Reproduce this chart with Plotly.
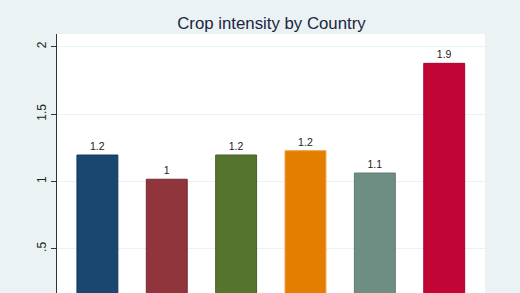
import plotly.graph_objects as go

countries = ["Country A", "Country B", "Country C", "Country D", "Country E", "Country F"]
crop_intensity = [1.196, 1.016, 1.196, 1.228, 1.062, 1.877]
value_labels = ["1.2", "1", "1.2", "1.2", "1.1", "1.9"]
bar_colors = ["#1a476f", "#90353b", "#55752f", "#e37e00", "#6e8e84", "#c10534"]
line_colors = ["#153a5a", "#7a2a30", "#466127", "#f0a040", "#5e7a71", "#a8042c"]
y_ticks = [0.5, 1, 1.5, 2]
y_tick_text = [".5", "1", "1.5", "2"]

fig = go.Figure()
fig.add_trace(go.Bar(
    x=countries,
    y=crop_intensity,
    text=value_labels,
    textposition="outside",
    textfont=dict(family="Liberation Sans, Arial", size=10.5, color="#222222"),
    marker=dict(color=bar_colors, line=dict(color=line_colors, width=1)),
    width=0.59,
    cliponaxis=False,
    hoverinfo="skip",
))

fig.update_layout(
    width=520, height=293,
    margin=dict(l=57, r=35, t=34, b=0),
    paper_bgcolor="#eaf2f3",
    plot_bgcolor="#ffffff",
    showlegend=False,
    title=dict(text="Crop intensity by Country", x=0.522, xanchor="center",
               y=1 - 23 / 293, yanchor="middle",
               font=dict(family="Liberation Sans, Arial", size=16.8, color="#1c2541")),
    xaxis=dict(range=[-0.5825, 5.588], showticklabels=False, showgrid=False,
               zeroline=False, showline=False, ticks=""),
    yaxis=dict(range=[0.171, 2.095], tickvals=y_ticks, ticktext=y_tick_text,
               tickangle=-90, ticks="outside", ticklen=5, tickcolor="#333333",
               showline=True, linecolor="#333333", linewidth=1,
               showgrid=True, gridcolor="#eaf2f3", gridwidth=1, zeroline=False,
               tickfont=dict(family="Liberation Sans, Arial", size=12, color="#222222")),
)

fig.write_html("out.html")
